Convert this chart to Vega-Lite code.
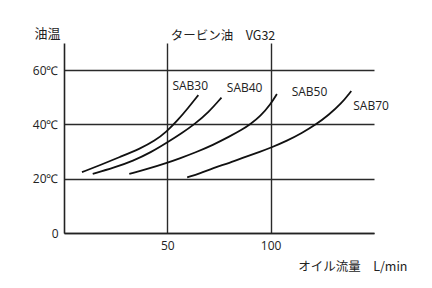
{
  "$schema": "https://vega.github.io/schema/vega-lite/v6.json",
  "autosize": {"type": "none"},
  "width": 310,
  "height": 190,
  "padding": {"left": 64, "top": 43, "right": 58, "bottom": 55},
  "config": {
    "view": {"stroke": null},
    "font": "Noto Sans CJK JP"
  },
  "title": {
    "text": "タービン油　VG32",
    "fontSize": 12.5,
    "fontWeight": "normal",
    "color": "#222",
    "anchor": "middle",
    "dx": 4,
    "dy": 32,
    "offset": 4,
    "baseline": "bottom"
  },
  "datasets": {
    "curves": [
      {"series": "SAB30", "flow": 8.7, "temp": 22.4},
      {"series": "SAB30", "flow": 17.4, "temp": 25.0},
      {"series": "SAB30", "flow": 27, "temp": 28.0},
      {"series": "SAB30", "flow": 36.7, "temp": 31.0},
      {"series": "SAB30", "flow": 44, "temp": 34.0},
      {"series": "SAB30", "flow": 49.6, "temp": 37.3},
      {"series": "SAB30", "flow": 55, "temp": 41.5},
      {"series": "SAB30", "flow": 60, "temp": 46.0},
      {"series": "SAB30", "flow": 65, "temp": 50.8},
      {"series": "SAB40", "flow": 13.9, "temp": 21.8},
      {"series": "SAB40", "flow": 24, "temp": 24.0},
      {"series": "SAB40", "flow": 33.5, "temp": 26.6},
      {"series": "SAB40", "flow": 42, "temp": 29.7},
      {"series": "SAB40", "flow": 50, "temp": 33.4},
      {"series": "SAB40", "flow": 57, "temp": 36.8},
      {"series": "SAB40", "flow": 63, "temp": 40.0},
      {"series": "SAB40", "flow": 70, "temp": 44.5},
      {"series": "SAB40", "flow": 76.2, "temp": 49.9},
      {"series": "SAB50", "flow": 31.6, "temp": 21.8},
      {"series": "SAB50", "flow": 40, "temp": 23.5},
      {"series": "SAB50", "flow": 50, "temp": 25.9},
      {"series": "SAB50", "flow": 56, "temp": 27.5},
      {"series": "SAB50", "flow": 64, "temp": 29.8},
      {"series": "SAB50", "flow": 72, "temp": 32.4},
      {"series": "SAB50", "flow": 80, "temp": 35.5},
      {"series": "SAB50", "flow": 86, "temp": 38.0},
      {"series": "SAB50", "flow": 90, "temp": 40.0},
      {"series": "SAB50", "flow": 95, "temp": 43.0},
      {"series": "SAB50", "flow": 100, "temp": 47.5},
      {"series": "SAB50", "flow": 103, "temp": 51.2},
      {"series": "SAB70", "flow": 59.6, "temp": 20.5},
      {"series": "SAB70", "flow": 66, "temp": 22.0},
      {"series": "SAB70", "flow": 72, "temp": 23.9},
      {"series": "SAB70", "flow": 80, "temp": 25.8},
      {"series": "SAB70", "flow": 88, "temp": 28.1},
      {"series": "SAB70", "flow": 95, "temp": 30.0},
      {"series": "SAB70", "flow": 100, "temp": 31.4},
      {"series": "SAB70", "flow": 108, "temp": 34.0},
      {"series": "SAB70", "flow": 115, "temp": 36.8},
      {"series": "SAB70", "flow": 122, "temp": 40.0},
      {"series": "SAB70", "flow": 128, "temp": 43.5},
      {"series": "SAB70", "flow": 134, "temp": 47.5},
      {"series": "SAB70", "flow": 139, "temp": 52.3}
    ],
    "labels": [
      {"series": "SAB30", "flow": 61.1, "temp": 54.0},
      {"series": "SAB40", "flow": 87.4, "temp": 53.3},
      {"series": "SAB50", "flow": 118.8, "temp": 51.8},
      {"series": "SAB70", "flow": 148.6, "temp": 46.7}
    ]
  },
  "layer": [
    {
      "data": {"name": "curves"},
      "mark": {"type": "line", "interpolate": "basis", "color": "#111", "strokeWidth": 1.8},
      "encoding": {
        "x": {
          "field": "flow", "type": "quantitative",
          "scale": {"domain": [0, 150], "nice": false},
          "axis": {
            "values": [50, 100],
            "grid": true, "gridColor": "#2a2a2a", "gridWidth": 1.4, "gridOpacity": 1,
            "ticks": false, "domainColor": "#222", "domainWidth": 1.6,
            "labelFontSize": 12, "labelColor": "#222", "labelPadding": 7, "labelFont": "Open Sans",
            "title": "オイル流量　L/min", "titleFontSize": 12.5, "titleFontWeight": "normal", "titleColor": "#222",
            "titleAnchor": null, "titleAlign": "right", "titleBaseline": "middle",
            "titleX": 343, "titleY": 33
          }
        },
        "y": {
          "field": "temp", "type": "quantitative",
          "scale": {"domain": [0, 70], "nice": false},
          "axis": {
            "values": [0, 20, 40, 60],
            "labelExpr": "datum.value == 0 ? '0' : datum.value + '℃'",
            "grid": true, "gridColor": "#2a2a2a", "gridWidth": 1.4, "gridOpacity": 1,
            "ticks": false, "domainColor": "#222", "domainWidth": 1.6,
            "labelFontSize": 12, "labelColor": "#222", "labelPadding": 6, "labelFont": "Open Sans",
            "title": "油温", "titleFontSize": 13, "titleFontWeight": "normal", "titleColor": "#222",
            "titleAngle": 0, "titleAlign": "center", "titleBaseline": "middle",
            "titleX": -17, "titleY": -10
          }
        },
        "detail": {"field": "series", "type": "nominal"}
      }
    },
    {
      "data": {"name": "labels"},
      "mark": {"type": "text", "font": "Open Sans", "fontSize": 12, "color": "#222"},
      "encoding": {
        "x": {"field": "flow", "type": "quantitative"},
        "y": {"field": "temp", "type": "quantitative"},
        "text": {"field": "series", "type": "nominal"}
      }
    }
  ]
}
